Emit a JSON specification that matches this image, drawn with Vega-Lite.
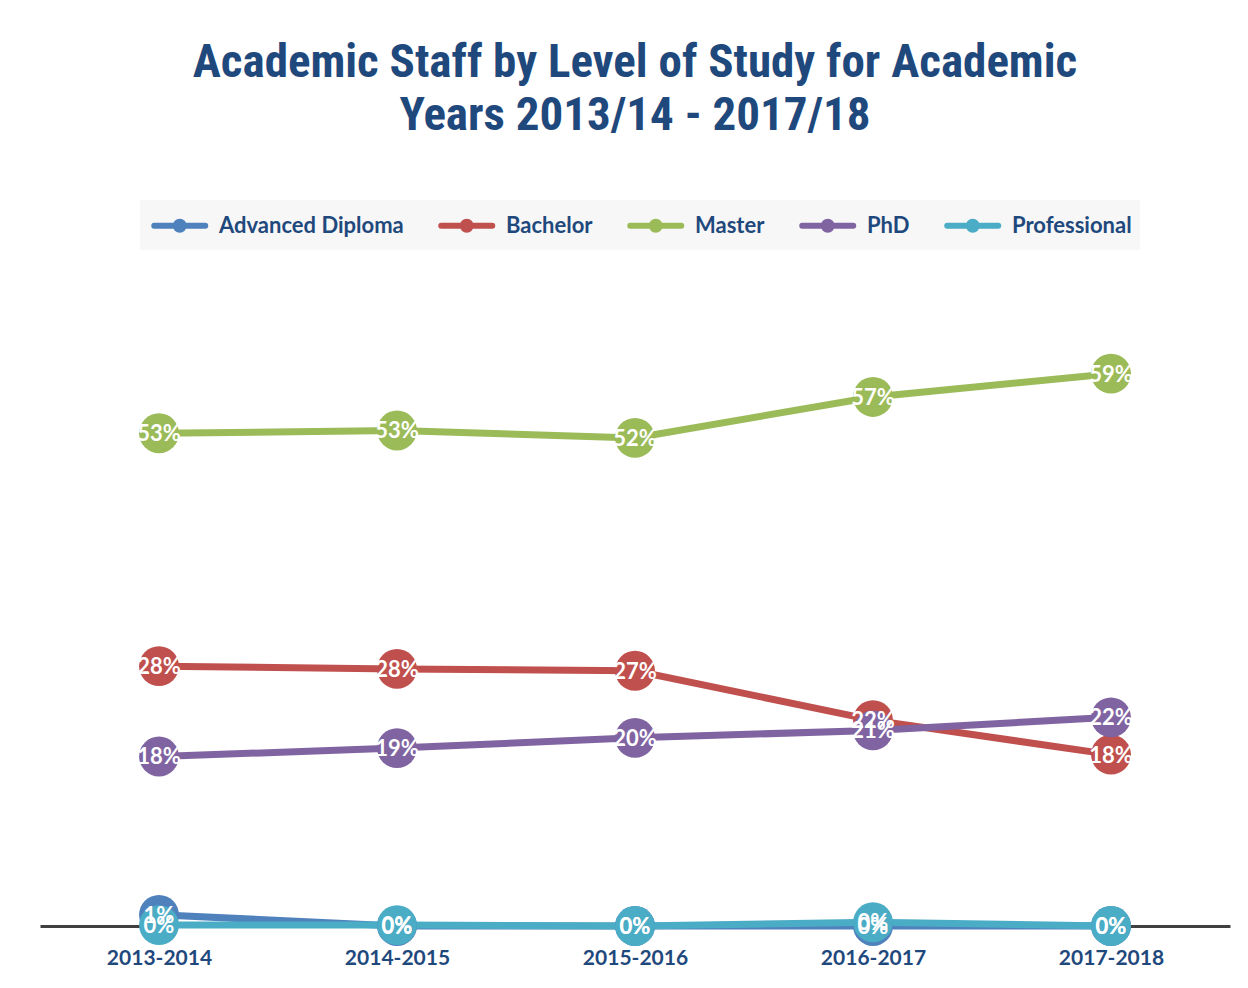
{
  "$schema": "https://vega.github.io/schema/vega-lite/v6.json",
  "width": 1190,
  "height": 652,
  "autosize": {"type": "none"},
  "padding": {"left": 40, "top": 274, "right": 18, "bottom": 62},
  "background": "white",
  "title": {
    "text": ["Academic Staff by Level of Study for Academic", "Years 2013/14 - 2017/18"],
    "font": "Roboto Condensed, Roboto, sans-serif",
    "fontSize": 47,
    "fontWeight": "bold",
    "color": "#1F497D",
    "anchor": "middle",
    "lineHeight": 53,
    "offset": 60
  },
  "config": {
    "view": {"stroke": null},
    "font": "Lato"
  },
  "data": {
    "values": [
      {"year": "2013-2014", "level": "Advanced Diploma", "share": 0.012},
      {"year": "2014-2015", "level": "Advanced Diploma", "share": 0.0},
      {"year": "2015-2016", "level": "Advanced Diploma", "share": 0.0},
      {"year": "2016-2017", "level": "Advanced Diploma", "share": 0.0},
      {"year": "2017-2018", "level": "Advanced Diploma", "share": 0.0},
      {"year": "2013-2014", "level": "Bachelor", "share": 0.279},
      {"year": "2014-2015", "level": "Bachelor", "share": 0.276},
      {"year": "2015-2016", "level": "Bachelor", "share": 0.274},
      {"year": "2016-2017", "level": "Bachelor", "share": 0.221},
      {"year": "2017-2018", "level": "Bachelor", "share": 0.184},
      {"year": "2013-2014", "level": "Master", "share": 0.529},
      {"year": "2014-2015", "level": "Master", "share": 0.532},
      {"year": "2015-2016", "level": "Master", "share": 0.524},
      {"year": "2016-2017", "level": "Master", "share": 0.568},
      {"year": "2017-2018", "level": "Master", "share": 0.593},
      {"year": "2013-2014", "level": "PhD", "share": 0.182},
      {"year": "2014-2015", "level": "PhD", "share": 0.191},
      {"year": "2015-2016", "level": "PhD", "share": 0.202},
      {"year": "2016-2017", "level": "PhD", "share": 0.210},
      {"year": "2017-2018", "level": "PhD", "share": 0.224},
      {"year": "2013-2014", "level": "Professional", "share": 0.001},
      {"year": "2014-2015", "level": "Professional", "share": 0.001},
      {"year": "2015-2016", "level": "Professional", "share": 0.0},
      {"year": "2016-2017", "level": "Professional", "share": 0.004},
      {"year": "2017-2018", "level": "Professional", "share": 0.0}
    ]
  },
  "encoding": {
    "x": {
      "field": "year",
      "type": "ordinal",
      "scale": {"type": "point", "padding": 0.5},
      "axis": {
        "title": null,
        "labelAngle": 0,
        "labelFont": "Lato",
        "labelFontSize": 21,
        "labelFontWeight": "bold",
        "labelColor": "#1F497D",
        "labelPadding": 21,
        "ticks": false,
        "grid": false,
        "domainColor": "#404040",
        "domainWidth": 3
      }
    },
    "y": {
      "field": "share",
      "type": "quantitative",
      "scale": {"domain": [0, 0.7], "nice": false},
      "axis": null
    }
  },
  "layer": [
    {
      "mark": {"type": "line", "strokeWidth": 7},
      "encoding": {
        "color": {
          "field": "level",
          "type": "nominal",
          "scale": {
            "domain": ["Advanced Diploma", "Bachelor", "Master", "PhD", "Professional"],
            "range": ["#4F81BD", "#C0504D", "#9BBB59", "#8064A2", "#4BACC6"]
          },
          "legend": {
            "title": null,
            "orient": "none",
            "legendX": 100,
            "legendY": -74,
            "direction": "horizontal",
            "columns": 5,
            "fillColor": "#F7F7F7",
            "padding": 8,
            "columnPadding": 25,
            "labelFont": "Lato",
            "labelFontSize": 22,
            "labelFontWeight": "bold",
            "labelColor": "#1F497D",
            "labelLimit": 400,
            "labelOffset": 36,
            "symbolType": "M-0.79,0H2.79M0.72,0A0.28,0.28,0,1,0,1.28,0A0.28,0.28,0,1,0,0.72,0Z",
            "symbolSize": 812,
            "symbolStrokeWidth": 6,
            "encode": {
              "symbols": {
                "update": {
                  "stroke": {"scale": "color", "field": "value"},
                  "fill": {"scale": "color", "field": "value"},
                  "strokeCap": {"value": "round"},
                  "opacity": {"value": 1}
                }
              }
            }
          }
        }
      }
    },
    {
      "mark": {"type": "point", "shape": "circle", "filled": true, "size": 1590, "opacity": 1},
      "encoding": {
        "color": {"field": "level", "type": "nominal", "legend": null}
      }
    },
    {
      "mark": {"type": "text", "color": "white", "font": "Lato", "fontSize": 22, "fontWeight": "bold", "baseline": "middle", "dy": 1},
      "encoding": {
        "text": {"field": "share", "type": "quantitative", "format": ".0%"}
      }
    }
  ]
}
